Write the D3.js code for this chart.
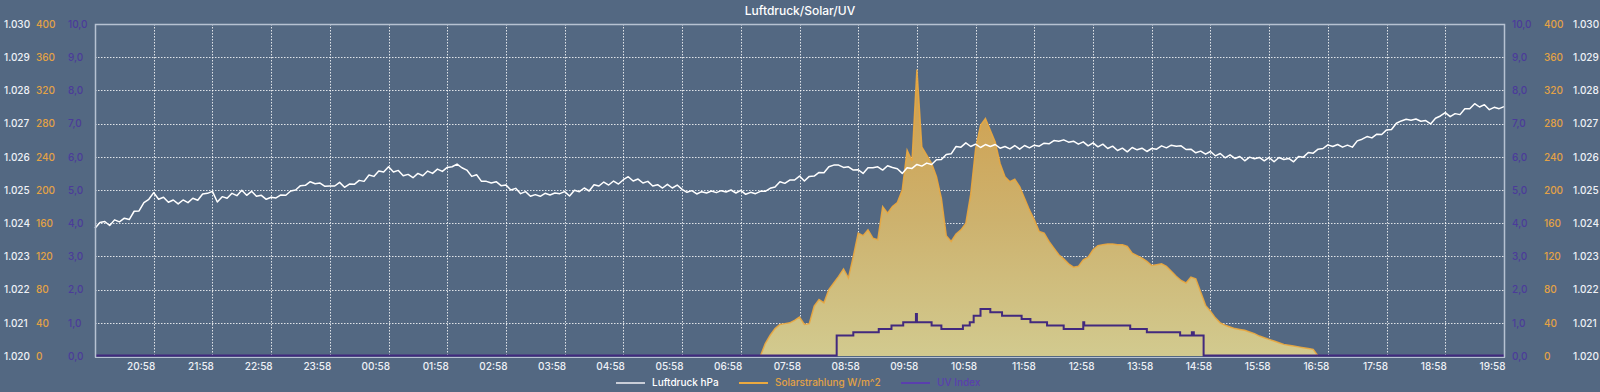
<!DOCTYPE html>
<html><head><meta charset="utf-8">
<script src="https://cdn.jsdelivr.net/npm/d3@7"></script>
<style>
html,body{margin:0;padding:0;background:#536882;}
svg{display:block;font-family:Inter,"Noto Sans",sans-serif;}
</style></head><body>
<svg id="chart" width="1600" height="392"></svg>
<script>
// ---------- DATA ----------
const chartTitle = "Luftdruck/Solar/UV";
const seriesNames = ["Luftdruck hPa", "Solarstrahlung W/m^2", "UV Index"];
const startTime = "19:58";          // first sample (day 1)
const stepMinutes = 5;
// Luftdruck hPa, every 5 minutes from 19:58 to 19:58 next day
const pressure = [
1023.85,1024.02,1024.05,1023.93,1024.10,1024.04,1024.15,1024.11,1024.36,1024.37,1024.62,1024.72,
1024.92,1024.72,1024.78,1024.63,1024.70,1024.58,1024.70,1024.62,1024.75,1024.69,1024.88,1024.90,
1024.96,1024.64,1024.80,1024.75,1024.90,1024.83,1024.99,1024.84,1024.96,1024.81,1024.84,1024.72,
1024.78,1024.76,1024.85,1024.84,1024.97,1025.00,1025.13,1025.14,1025.25,1025.19,1025.21,1025.11,
1025.12,1025.12,1025.23,1025.08,1025.18,1025.17,1025.29,1025.26,1025.45,1025.41,1025.57,1025.54,
1025.70,1025.54,1025.59,1025.43,1025.47,1025.37,1025.50,1025.43,1025.57,1025.50,1025.63,1025.56,
1025.68,1025.70,1025.78,1025.67,1025.60,1025.41,1025.46,1025.26,1025.26,1025.21,1025.25,1025.13,
1025.15,1025.00,1025.05,1024.89,1024.95,1024.81,1024.86,1024.81,1024.90,1024.85,1024.91,1024.89,
1024.95,1024.82,1024.99,1024.95,1025.06,1024.97,1025.16,1025.12,1025.24,1025.15,1025.27,1025.18,
1025.31,1025.40,1025.27,1025.33,1025.21,1025.26,1025.12,1025.16,1025.06,1025.17,1025.06,1025.15,
1025.02,1024.93,1024.98,1024.88,1024.95,1024.91,1024.97,1024.92,1024.98,1024.94,1025.00,1024.91,
1024.99,1024.87,1024.93,1024.89,1024.96,1024.96,1025.05,1025.09,1025.25,1025.20,1025.30,1025.30,
1025.42,1025.27,1025.41,1025.42,1025.53,1025.52,1025.70,1025.75,1025.75,1025.68,1025.70,1025.60,
1025.61,1025.50,1025.67,1025.67,1025.70,1025.60,1025.73,1025.68,1025.64,1025.50,1025.67,1025.65,
1025.77,1025.72,1025.81,1025.77,1025.91,1025.92,1026.07,1026.09,1026.31,1026.29,1026.42,1026.31,
1026.38,1026.28,1026.37,1026.31,1026.37,1026.26,1026.31,1026.24,1026.34,1026.23,1026.34,1026.27,
1026.35,1026.32,1026.41,1026.39,1026.49,1026.47,1026.51,1026.44,1026.47,1026.38,1026.45,1026.33,
1026.42,1026.30,1026.38,1026.25,1026.32,1026.19,1026.26,1026.15,1026.28,1026.21,1026.26,1026.16,
1026.25,1026.23,1026.33,1026.27,1026.35,1026.32,1026.33,1026.22,1026.23,1026.12,1026.17,1026.08,
1026.16,1026.03,1026.10,1025.97,1026.06,1025.95,1026.01,1025.88,1025.99,1025.94,1025.98,1025.88,
1025.98,1025.85,1025.98,1025.92,1025.95,1025.85,1026.01,1025.99,1026.13,1026.11,1026.23,1026.25,
1026.36,1026.31,1026.37,1026.29,1026.35,1026.29,1026.48,1026.53,1026.61,1026.57,1026.68,1026.67,
1026.81,1026.82,1027.01,1027.08,1027.13,1027.10,1027.14,1027.07,1027.09,1026.99,1027.16,1027.23,
1027.33,1027.21,1027.30,1027.27,1027.45,1027.45,1027.60,1027.50,1027.57,1027.42,1027.49,1027.45,1027.51
];
// Solarstrahlung W/m^2, every 5 minutes from 07:18
const solarStart = "07:18";
const solar = [
0,15,25,33,38,39,40,43,47,38,
39,60,68,64,80,88,96,105,94,120,
148,145,152,142,140,180,172,180,185,200,
248,235,345,252,242,232,216,190,145,138,
147,152,160,195,250,278,286,272,258,232,
216,210,213,204,190,176,164,150,148,138,
130,122,117,111,107,108,116,119,128,133,
134,135,135,134,134,132,124,121,118,114,
109,110,111,108,102,96,91,88,95,93,
77,61,54,46,40,37,35,33,32,31,
29,27,24,22,20,18,16,14,13,12,
11,10,9,8,0
];
// UV Index: value changes (step line)
const uvTimes  = ["19:58","08:36","08:53","09:19","09:32","09:44","09:57","09:58","10:13","10:23","10:45","10:52","10:56","11:03","11:13","11:25","11:45","11:54","12:11","12:28","12:48","12:49","13:36","13:53","14:27","14:39","14:41","14:51"];
const uvValues = [0,   0.6,    0.7,    0.8,    0.9,    1.0,    1.25,   1.0,    0.9,    0.8,    0.9,    1.0,    1.2,    1.4,    1.3,    1.2,    1.1,    1.0,    0.9,    0.8,    1.0,    0.9,    0.8,    0.7,    0.6,    0.7,    0.6,    0];
const xTickLabels = ["20:58","21:58","22:58","23:58","00:58","01:58","02:58","03:58","04:58","05:58","06:58","07:58","08:58","09:58","10:58","11:58","12:58","13:58","14:58","15:58","16:58","17:58","18:58","19:58"];
const pressureTicks = [1020,1021,1022,1023,1024,1025,1026,1027,1028,1029,1030];
const solarTicks = [0,40,80,120,160,200,240,280,320,360,400];
const uvTicks = [0,1,2,3,4,5,6,7,8,9,10];

// ---------- LAYOUT / STYLE ----------
const W = 1600, H = 392;
const L = 95, R = 1504, T = 24, B = 356;
const C = {
  bg: "#536882", frame: "#b7c2d2", grid: "rgba(255,255,255,0.82)",
  pressure: "#ffffff", pressureText: "#eef1f6", pressureLegend: "#c9ced8",
  solar: "#eba93f", solarText: "#e3a245",
  uv: "#42297e", uvText: "#4b3b9a", uvLegend: "#5a3fae"
};

const de = d3.formatLocale({decimal: ",", thousands: ".", grouping: [3], currency: ["", " €"]});
const fmtP = de.format(",.0f"), fmtU = de.format(".1f"), fmtS = de.format("d");

const day0 = new Date(2024, 0, 1, 0, 0);
function toDate(hhmm, isEnd) {
  const [h, m] = hhmm.split(":").map(Number);
  const [sh, sm] = startTime.split(":").map(Number);
  let mins = ((h * 60 + m) - (sh * 60 + sm) + 1440) % 1440;
  if (isEnd && mins === 0) mins = 1440;
  return new Date(day0.getTime() + (sh * 60 + sm + mins) * 60000);
}
const t0 = toDate(startTime);
const t1 = toDate(startTime, true);

const x = d3.scaleTime().domain([t0, t1]).range([L, R]);
const yP = d3.scaleLinear().domain([1020, 1030]).range([B, T]);
const yS = d3.scaleLinear().domain([0, 400]).range([B, T]);
const yU = d3.scaleLinear().domain([0, 10]).range([B, T]);

const pData = pressure.map((v, i) => ({t: new Date(t0.getTime() + i * stepMinutes * 60000), v}));
const s0 = toDate(solarStart);
const sData = solar.map((v, i) => ({t: new Date(s0.getTime() + i * stepMinutes * 60000), v}));
const uData = uvTimes.map((tt, i) => ({t: toDate(tt), v: uvValues[i]}));
uData.push({t: t1, v: uvValues[uvValues.length - 1]});

const svg = d3.select("#chart");
svg.append("rect").attr("width", W).attr("height", H).attr("fill", C.bg);

// gradient for solar area
const defs = svg.append("defs");
const grad = defs.append("linearGradient").attr("id", "solarGrad")
  .attr("gradientUnits", "userSpaceOnUse").attr("x1", 0).attr("x2", 0)
  .attr("y1", yS(360)).attr("y2", yS(0));
grad.append("stop").attr("offset", "0%").attr("stop-color", "#d09c48");
grad.append("stop").attr("offset", "55%").attr("stop-color", "#cdb26e");
grad.append("stop").attr("offset", "100%").attr("stop-color", "#d2ca8f");

// title
svg.append("text").attr("x", (L + R) / 2 + 0.5).attr("y", 12).attr("text-anchor", "middle")
  .attr("dominant-baseline", "middle").attr("fill", "#ffffff").attr("font-size", 12)
  .attr("font-weight", 500).text(chartTitle);

// grid
const tickDates = xTickLabels.map(s => toDate(s, true));
const g = svg.append("g");
g.selectAll("line.h").data(pressureTicks.slice(1, -1)).join("line")
  .attr("x1", L).attr("x2", R).attr("y1", d => Math.round(yP(d)) + 0.5).attr("y2", d => Math.round(yP(d)) + 0.5)
  .attr("stroke", C.grid).attr("stroke-width", 1).attr("stroke-dasharray", "1.5,1.5");
g.selectAll("line.v").data(tickDates.slice(0, -1)).join("line")
  .attr("y1", T).attr("y2", B).attr("x1", d => Math.round(x(d)) + 0.5).attr("x2", d => Math.round(x(d)) + 0.5)
  .attr("stroke", C.grid).attr("stroke-width", 1).attr("stroke-dasharray", "1.5,1.5");

// solar area + line
svg.append("path").datum(sData)
  .attr("d", d3.area().x(d => x(d.t)).y0(yS(0)).y1(d => yS(d.v)))
  .attr("fill", "url(#solarGrad)");
svg.append("path").datum(sData)
  .attr("d", d3.line().x(d => x(d.t)).y(d => yS(d.v)))
  .attr("fill", "none").attr("stroke", C.solar).attr("stroke-width", 1.5).attr("stroke-opacity", 0.9);

// pressure line
svg.append("path").datum(pData)
  .attr("d", d3.line().x(d => x(d.t)).y(d => yP(d.v)))
  .attr("fill", "none").attr("stroke", C.pressure).attr("stroke-width", 1.5).attr("stroke-linejoin", "round");

// uv step line
svg.append("path").datum(uData)
  .attr("d", d3.line().curve(d3.curveStepAfter).x(d => x(d.t)).y(d => yU(d.v) - 0.5))
  .attr("fill", "none").attr("stroke", C.uv).attr("stroke-width", 2);

// frame
svg.append("path").attr("d", `M${L + 0.5},${B + 1.5}V${T + 0.5}H${R + 0.5}V${B + 1.5}`)
  .attr("fill", "none").attr("stroke", C.frame).attr("stroke-width", 1.5);
svg.append("line").attr("x1", L).attr("x2", R + 1).attr("y1", B + 1.5).attr("y2", B + 1.5)
  .attr("stroke", C.frame).attr("stroke-width", 1);

// x axis labels (right aligned to tick)
const xAxis = d3.axisBottom(x).tickValues(tickDates).tickSize(0).tickPadding(0)
  .tickFormat((d, i) => xTickLabels[i]);
const gx = svg.append("g").attr("transform", `translate(1,${B + 10})`).call(xAxis);
gx.select(".domain").remove();
gx.selectAll("text").attr("text-anchor", "end").attr("fill", "#eef1f6")
  .attr("font-size", 10).attr("font-weight", 500).attr("font-family", "Inter,'Noto Sans',sans-serif")
  .attr("dy", "0.35em").attr("y", 0);

// y axes
function yAxis(scale, ticks, fmt, xpos, color) {
  const a = d3.axisRight(scale).tickValues(ticks).tickSize(0).tickPadding(0).tickFormat(fmt);
  const gg = svg.append("g").attr("transform", `translate(${xpos},0)`).call(a);
  gg.select(".domain").remove();
  gg.selectAll("text").attr("fill", color).attr("font-size", 10).attr("font-weight", 500)
    .attr("font-family", "Inter,'Noto Sans',sans-serif").attr("text-anchor", "start");
}
yAxis(yP, pressureTicks, fmtP, 4, C.pressureText);
yAxis(yS, solarTicks, fmtS, 36, C.solarText);
yAxis(yU, uvTicks, fmtU, 68, C.uvText);
yAxis(yU, uvTicks, fmtU, 1512, C.uvText);
yAxis(yS, solarTicks, fmtS, 1544, C.solarText);
yAxis(yP, pressureTicks, fmtP, 1573, C.pressureText);

// legend
const legendItems = [
  {name: seriesNames[0], line: C.pressureLegend, text: "#ffffff", x: 616},
  {name: seriesNames[1], line: C.solar, text: C.solarText, x: 739},
  {name: seriesNames[2], line: C.uvLegend, text: C.uvLegend, x: 901}
];
const lg = svg.append("g").attr("transform", "translate(0,383)");
legendItems.forEach(it => {
  lg.append("line").attr("x1", it.x).attr("x2", it.x + 29).attr("y1", 0).attr("y2", 0)
    .attr("stroke", it.line).attr("stroke-width", 2);
  lg.append("text").attr("x", it.x + 36).attr("y", 0).attr("dominant-baseline", "middle")
    .attr("fill", it.text).attr("font-size", 10).attr("font-weight", 500).text(it.name);
});
</script>
</body></html>
